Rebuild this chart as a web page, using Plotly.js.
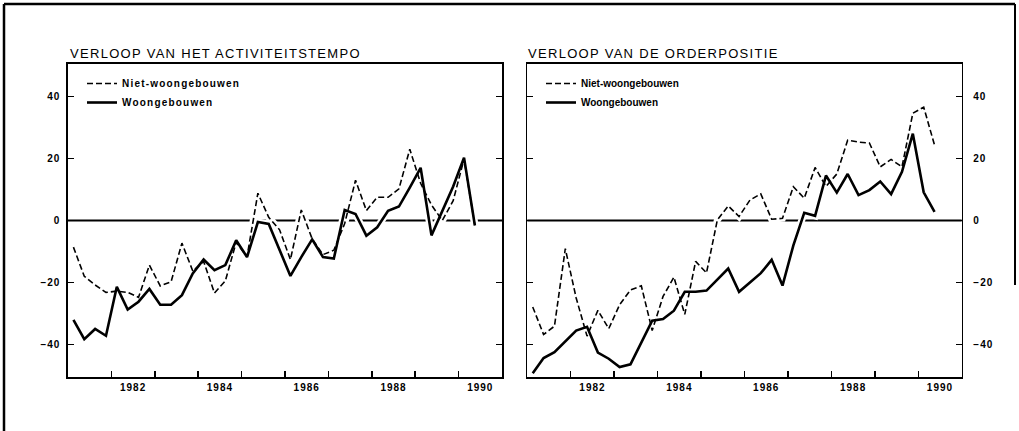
<!DOCTYPE html>
<html>
<head>
<meta charset="utf-8">
<script src="https://cdn.plot.ly/plotly-3.0.1.min.js"></script>
<style>
  html, body { margin: 0; padding: 0; background: #fff; }
  #chart { width: 1019px; height: 431px; }
  .annotation-text { letter-spacing: 1.3px; }
  .xtick text, .ytick text, .y2tick text, .x2tick text { letter-spacing: 1px; }
  .legendtext { letter-spacing: 1.2px; }
</style>
</head>
<body>
<div id="chart"></div>
<script>
// Quarter mid-points (x positions of the quarterly observations)
const quarters = [
  1981.125, 1981.375, 1981.625, 1981.875,
  1982.125, 1982.375, 1982.625, 1982.875,
  1983.125, 1983.375, 1983.625, 1983.875,
  1984.125, 1984.375, 1984.625, 1984.875,
  1985.125, 1985.375, 1985.625, 1985.875,
  1986.125, 1986.375, 1986.625, 1986.875,
  1987.125, 1987.375, 1987.625, 1987.875,
  1988.125, 1988.375, 1988.625, 1988.875,
  1989.125, 1989.375, 1989.625, 1989.875,
  1990.125, 1990.375
];

// VERLOOP VAN HET ACTIVITEITSTEMPO
const activiteitNietWoongebouwen = [
  -8.6, -18, -20.8, -23.2, -22.8, -23.2, -24.8, -14.4, -21.1, -19.8,
  -7.3, -16.3, -13.2, -23.4, -19.5, -7, -11.7, 8.8, 1, -3,
  -12.6, 3.4, -5.9, -11, -9.6, -1, 13, 3.2, 7.5, 7.5,
  10.2, 23, 12, 5, 0, 6.4, 19.8, -1.6
];
const activiteitWoongebouwen = [
  -32.1, -38.3, -35.0, -37.2, -21.4, -28.7, -26.2, -22.1, -27.2, -27.2,
  -24.1, -17.1, -12.6, -16.0, -14.4, -6.4, -11.8, -0.5, -1.1, -9.5,
  -17.9, -11.8, -6.1, -11.8, -12.3, 3.4, 2.1, -4.9, -2.2, 3.1,
  4.5, 10.6, 17, -4.8, 3, 11, 20.3, -1.6
];

// VERLOOP VAN DE ORDERPOSITIE
const orderNietWoongebouwen = [
  -27.9, -36.8, -34.1, -9.1, -25, -37.3, -29, -34.9, -27.2, -22.4,
  -21.1, -35.5, -24.5, -18.3, -30.3, -13.2, -16.9, 0.2, 4.7, 1.3,
  6.6, 8.6, 0.4, 0.7, 10.9, 7.2, 17.1, 11, 15, 25.9,
  25.3, 25, 17.3, 19.7, 17.3, 34.6, 36.6, 24.3
];
const orderWoongebouwen = [
  -49.3, -44.4, -42.5, -39, -35.5, -34.3, -42.6, -44.6, -47.3, -46.4,
  -39.3, -32.3, -31.8, -29.1, -23, -23, -22.6, -19, -15.5, -23,
  -20.1, -17, -12.7, -21, -8, 2.5, 1.5, 14.5, 9, 15,
  8.2, 9.8, 12.6, 8.5, 15.7, 28, 9.1, 2.8
];

const yearLabels = ['1982', '1984', '1986', '1988', '1990'];
const yearBoundaries = [1982, 1983, 1984, 1985, 1986, 1987, 1988, 1989, 1990];
const yTickValues = [-40, -20, 0, 20, 40];
const seriesNames = ['Niet-woongebouwen', 'Woongebouwen'];
const panelTitles = ['VERLOOP VAN HET ACTIVITEITSTEMPO', 'VERLOOP VAN DE ORDERPOSITIE'];

const W = 1019, H = 431;
const FONT = 'Liberation Sans, Arial, sans-serif';

function halo(y, xa, ya) {
  return { x: quarters, y: y, xaxis: xa, yaxis: ya, mode: 'lines', showlegend: false,
    hoverinfo: 'skip', line: { color: '#ffffff', width: 7 } };
}
function dashed(y, xa, ya, lg) {
  return { x: quarters, y: y, xaxis: xa, yaxis: ya, mode: 'lines', name: seriesNames[0],
    legend: lg, line: { color: '#000', width: 1.6, dash: '6px,3px' } };
}
function solid(y, xa, ya, lg) {
  return { x: quarters, y: y, xaxis: xa, yaxis: ya, mode: 'lines', name: seriesNames[1],
    legend: lg, line: { color: '#000', width: 2.6 } };
}

const traces = [
  halo(activiteitNietWoongebouwen, 'x', 'y'),
  halo(activiteitWoongebouwen, 'x', 'y'),
  dashed(activiteitNietWoongebouwen, 'x', 'y', 'legend'),
  solid(activiteitWoongebouwen, 'x', 'y', 'legend'),
  halo(orderNietWoongebouwen, 'x2', 'y2'),
  halo(orderWoongebouwen, 'x2', 'y2'),
  dashed(orderNietWoongebouwen, 'x2', 'y2', 'legend2'),
  solid(orderWoongebouwen, 'x2', 'y2', 'legend2')
];

const tickFont = { family: FONT, size: 10, color: '#000', weight: 'bold' };
const yDomain = [(H - 377) / H, (H - 64) / H];

function xAxis(domain, anchor) {
  return {
    domain: domain, anchor: anchor, range: [1981, 1991], type: 'linear',
    tickmode: 'array', tickvals: yearLabels.map(function (s) { return Number(s) + 0.5; }),
    ticktext: yearLabels, ticks: '', showgrid: false, zeroline: false,
    showline: true, linecolor: '#000', linewidth: 1.6, mirror: true,
    tickfont: tickFont,
    minor: { tickmode: 'array', tickvals: yearBoundaries, ticks: 'inside', ticklen: 6,
      tickwidth: 1.5, tickcolor: '#000', showgrid: false }
  };
}
function yAxis(domain, anchor, side) {
  return {
    domain: domain, anchor: anchor, side: side, range: [-50.5, 50.5],
    tickmode: 'array', tickvals: yTickValues, ticks: 'inside', ticklen: 6, tickwidth: 1.5,
    tickcolor: '#000', showgrid: false, zeroline: false,
    showline: true, linecolor: '#000', linewidth: 1.6, mirror: 'ticks',
    tickfont: tickFont, ticklabelstandoff: side === 'left' ? 4 : 8
  };
}

const legendCommon = {
  orientation: 'v', xanchor: 'left', yanchor: 'top', bgcolor: 'rgba(0,0,0,0)',
  font: { family: FONT, size: 10, color: '#000', weight: 'bold' },
  itemwidth: 30, tracegroupgap: 0, traceorder: 'normal'
};

const layout = {
  width: W, height: H, margin: { l: 0, r: 0, t: 0, b: 0 },
  paper_bgcolor: '#fff', plot_bgcolor: '#fff', showlegend: true,
  font: { family: FONT, color: '#000' },
  xaxis: xAxis([68 / W, 502 / W], 'y'),
  yaxis: yAxis(yDomain, 'x', 'left'),
  xaxis2: xAxis([527.3 / W, 961.7 / W], 'y2'),
  yaxis2: yAxis(yDomain, 'x2', 'right'),
  legend: Object.assign({}, legendCommon, { x: 82 / W, y: 1 - 69 / H }),
  legend2: Object.assign({}, legendCommon, { x: 541 / W, y: 1 - 69 / H }),
  annotations: [
    { xref: 'paper', yref: 'paper', x: 68 / W, y: 1 - 53 / H, xanchor: 'left', yanchor: 'middle',
      text: panelTitles[0], showarrow: false, font: { family: FONT, size: 13, color: '#000' } },
    { xref: 'paper', yref: 'paper', x: 526 / W, y: 1 - 53 / H, xanchor: 'left', yanchor: 'middle',
      text: panelTitles[1], showarrow: false, font: { family: FONT, size: 13, color: '#000' } }
  ],
  shapes: [
    // zero lines
    { type: 'line', layer: 'below', xref: 'x domain', yref: 'y', x0: 0, x1: 1, y0: 0, y1: 0,
      line: { color: '#000', width: 2 } },
    { type: 'line', layer: 'below', xref: 'x2 domain', yref: 'y2', x0: 0, x1: 1, y0: 0, y1: 0,
      line: { color: '#000', width: 2 } },
    // outer page frame
    { type: 'line', xref: 'paper', yref: 'paper', x0: 4 / W, x1: 4 / W, y0: 0, y1: 1 - 4 / H,
      line: { color: '#000', width: 2.5 } },
    { type: 'line', xref: 'paper', yref: 'paper', x0: 4 / W, x1: 1015 / W, y0: 1 - 4 / H, y1: 1 - 4 / H,
      line: { color: '#000', width: 2.5 } },
    { type: 'line', xref: 'paper', yref: 'paper', x0: 1015 / W, x1: 1015 / W, y0: 1 - 4 / H, y1: 1 - 285 / H,
      line: { color: '#000', width: 2 } }
  ]
};

Plotly.newPlot('chart', traces, layout, { displayModeBar: false, staticPlot: true });
</script>
</body>
</html>
